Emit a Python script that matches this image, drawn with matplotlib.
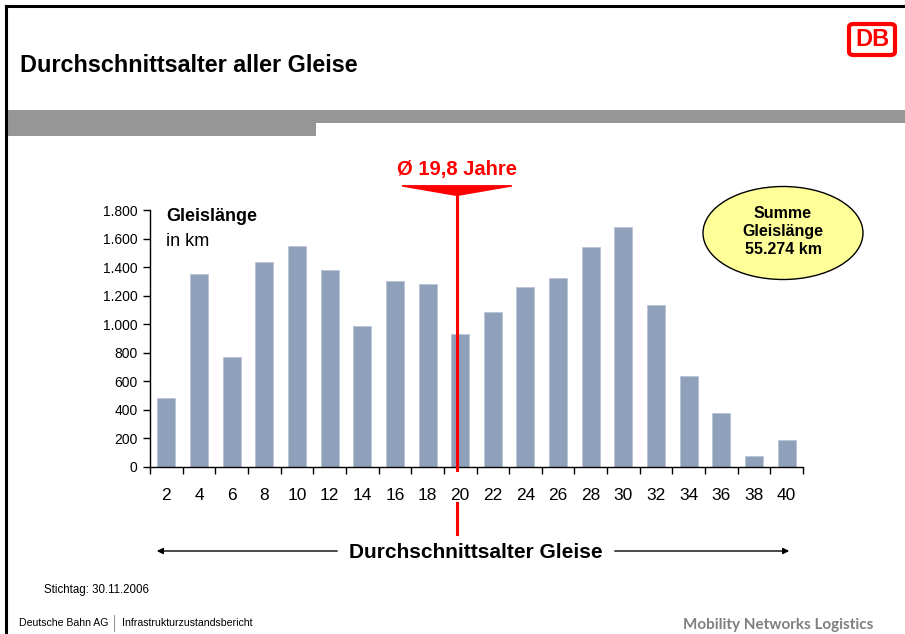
import matplotlib
matplotlib.use("Agg")
import matplotlib.pyplot as plt
from matplotlib.patches import Rectangle, Ellipse, Polygon, FancyBboxPatch, FancyArrowPatch
import numpy as np

plt.rcParams['font.family'] = ['Liberation Sans', 'DejaVu Sans']

ages = [2, 4, 6, 8, 10, 12, 14, 16, 18, 20, 22, 24, 26, 28, 30, 32, 34, 36, 38, 40]
lengths_km = [480, 1350, 770, 1435, 1545, 1380, 990, 1305, 1285, 930,
              1085, 1260, 1325, 1540, 1680, 1135, 635, 375, 80, 190]
mean_age = 19.8
total_km = "55.274"
y_ticks = [0, 200, 400, 600, 800, 1000, 1200, 1400, 1600, 1800]

W, H = 905, 634
fig = plt.figure(figsize=(W / 100, H / 100), dpi=100)


def fx(x):
    return x / W


def fy(y):
    return 1 - y / H


# slide frame
fig.add_artist(plt.Line2D([fx(6), fx(905)], [fy(6), fy(6)], color="black", lw=2.2))
fig.add_artist(plt.Line2D([fx(6), fx(6)], [fy(6), fy(634)], color="black", lw=2.2))

# grey band below title
fig.add_artist(Rectangle((fx(7), fy(123)), fx(905) - fx(7), fy(110) - fy(123),
                         transform=fig.transFigure, color="#969696", lw=0))
fig.add_artist(Rectangle((fx(7), fy(136)), fx(316) - fx(7), fy(123) - fy(136),
                         transform=fig.transFigure, color="#969696", lw=0))

fig.text(fx(20), fy(65), "Durchschnittsalter aller Gleise", fontsize=16.8,
         fontweight="bold", va="center", ha="left")

# DB logo
fig.add_artist(FancyBboxPatch((fx(849), fy(55)), fx(46), fy(0) - fy(31),
                              boxstyle="round,pad=0,rounding_size=0.005",
                              transform=fig.transFigure, fc="white", ec="#FF0000", lw=3))
fig.text(fx(872), fy(40), "DB", fontsize=17, fontweight="bold", color="#FF0000",
         ha="center", va="center")

# chart
ax = fig.add_axes([fx(150), fy(467), fx(803) - fx(150), fy(210) - fy(467)])
x = np.arange(len(ages))
ax.bar(x, lengths_km, width=0.55, color="#8FA0BA", edgecolor="#B9C4D4", lw=0.6, zorder=2)
ax.set_xlim(-0.5, len(ages) - 0.5)
ax.set_ylim(0, 1800)
ax.set_yticks(y_ticks)
ax.set_yticklabels([f"{v:,}".replace(",", ".") for v in y_ticks], fontsize=10)
ax.set_xticks(x)
ax.set_xticklabels([str(a) for a in ages], fontsize=12.5)
ax.set_xticks(np.arange(len(ages) + 1) - 0.5, minor=True)
ax.tick_params(axis="x", which="major", length=0, pad=15)
ax.tick_params(axis="x", which="minor", length=5, width=1, direction="out")
ax.tick_params(axis="y", length=5, width=1, direction="out", pad=4)
for s in ["top", "right"]:
    ax.spines[s].set_visible(False)
for s in ["left", "bottom"]:
    ax.spines[s].set_linewidth(1)

ax.text(0.025, 0.975, "Gleislänge", transform=ax.transAxes, fontsize=13,
        fontweight="bold", va="center", ha="left")
ax.text(0.025, 0.877, "in km", transform=ax.transAxes, fontsize=13,
        va="center", ha="left")

# mean age marker
mx = (mean_age - ages[0]) / 2
tr = ax.get_xaxis_transform()
ax.plot([mx, mx], [1.054, -0.01], color="#FF0000", lw=2.2, transform=tr, clip_on=False, zorder=3)
ax.plot([mx, mx], [-0.14, -0.26], color="#FF0000", lw=2.2, transform=tr, clip_on=False, zorder=3)
half = 55 / 32.65
ax.add_patch(Polygon([[mx - half, 1.097], [mx + half, 1.097], [mx + half, 1.091],
                      [mx, 1.054], [mx - half, 1.091]],
                     closed=True, transform=tr, color="#FF0000", clip_on=False, lw=0))
ax.text(mx, 1.157, f"Ø {str(mean_age).replace('.', ',')} Jahre", transform=tr,
        fontsize=14.5, fontweight="bold", color="#FF0000", ha="center", va="center")

# total length bubble
fig.add_artist(Ellipse((fx(783), fy(233)), fx(160), fy(0) - fy(93),
                       transform=fig.transFigure, fc="#FFFF99", ec="black", lw=1))
fig.text(fx(783), fy(232), f"Summe\nGleislänge\n{total_km} km", fontsize=11.5,
         fontweight="bold", ha="center", va="center", linespacing=1.25)

# bottom axis caption with arrows
fig.text(fx(476), fy(553), "Durchschnittsalter Gleise", fontsize=15, fontweight="bold",
         ha="center", va="center")
fig.add_artist(FancyArrowPatch((fx(340), fy(551)), (fx(154), fy(551)),
                               transform=fig.transFigure, arrowstyle="-|>",
                               mutation_scale=9, lw=1, color="black"))
fig.add_artist(FancyArrowPatch((fx(612), fy(551)), (fx(792), fy(551)),
                               transform=fig.transFigure, arrowstyle="-|>",
                               mutation_scale=9, lw=1, color="black"))

fig.text(fx(44), fy(590), "Stichtag: 30.11.2006", fontsize=8.3, ha="left", va="center")
fig.text(fx(19), fy(623), "Deutsche Bahn AG", fontsize=7.6, ha="left", va="center")
fig.add_artist(plt.Line2D([fx(114), fx(114)], [fy(615), fy(631)], color="#999999", lw=0.8))
fig.text(fx(122), fy(623), "Infrastrukturzustandsbericht", fontsize=7.6, ha="left", va="center")
fig.text(fx(873), fy(625), "Mobility Networks Logistics", fontsize=11, fontweight="bold",
         color="#7F7F7F", ha="right", va="center", family=["Lato", "DejaVu Sans"])

fig.savefig("out.png", dpi=100)
